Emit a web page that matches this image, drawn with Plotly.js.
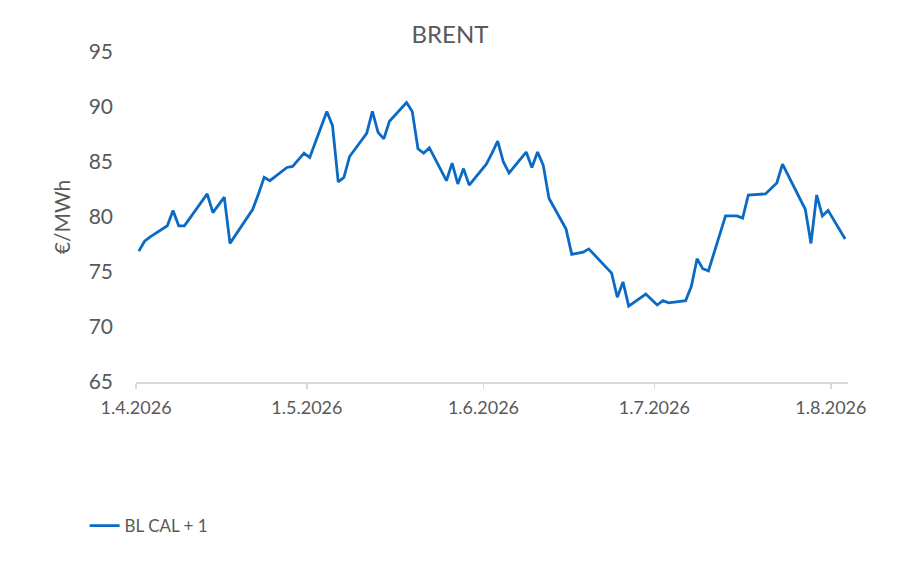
<!DOCTYPE html>
<html>
<head>
<meta charset="utf-8">
<script src="https://cdn.plot.ly/plotly-3.0.1.min.js"></script>
<style>
  html, body { margin: 0; padding: 0; background: #ffffff; }
  #chart { width: 900px; height: 573px; }
</style>
</head>
<body>
<div id="chart"></div>
<script>
// trading days and BL CAL + 1 prices (EUR/MWh)
var dates = [
  '2026-04-01', '2026-04-02', '2026-04-03', '2026-04-06', '2026-04-07', '2026-04-08', '2026-04-09', '2026-04-10',
  '2026-04-13', '2026-04-14', '2026-04-15', '2026-04-16', '2026-04-17',
  '2026-04-20', '2026-04-21', '2026-04-22', '2026-04-23', '2026-04-24',
  '2026-04-27', '2026-04-28', '2026-04-29', '2026-04-30', '2026-05-01',
  '2026-05-04', '2026-05-05', '2026-05-06', '2026-05-07', '2026-05-08',
  '2026-05-11', '2026-05-12', '2026-05-13', '2026-05-14', '2026-05-15',
  '2026-05-18', '2026-05-19', '2026-05-20', '2026-05-21', '2026-05-22',
  '2026-05-25', '2026-05-26', '2026-05-27', '2026-05-28', '2026-05-29',
  '2026-06-01', '2026-06-02', '2026-06-03', '2026-06-04', '2026-06-05',
  '2026-06-08', '2026-06-09', '2026-06-10', '2026-06-11', '2026-06-12',
  '2026-06-15', '2026-06-16', '2026-06-17', '2026-06-18', '2026-06-19',
  '2026-06-22', '2026-06-23', '2026-06-24', '2026-06-25', '2026-06-26',
  '2026-06-29', '2026-06-30', '2026-07-01', '2026-07-02', '2026-07-03',
  '2026-07-06', '2026-07-07', '2026-07-08', '2026-07-09', '2026-07-10',
  '2026-07-13', '2026-07-14', '2026-07-15', '2026-07-16', '2026-07-17',
  '2026-07-20', '2026-07-21', '2026-07-22', '2026-07-23', '2026-07-24',
  '2026-07-27', '2026-07-28', '2026-07-29', '2026-07-30', '2026-07-31',
  '2026-08-03'
];
var blCal1 = [
  76.9, 77.8, 78.2, 79.2, 80.6, 79.2, 79.2, 79.9,
  82.1, 80.4, 81.1, 81.8, 77.6,
  79.9, 80.7, 82.1, 83.6, 83.3,
  84.5, 84.6, 85.2, 85.8, 85.4,
  89.6, 88.3, 83.2, 83.6, 85.5,
  87.6, 89.6, 87.7, 87.1, 88.7,
  90.4, 89.6, 86.2, 85.8, 86.3,
  83.3, 84.9, 83.0, 84.4, 82.9,
  84.8, 85.8, 86.9, 85.0, 84.0,
  85.9, 84.5, 85.9, 84.7, 81.7,
  78.9, 76.6, 76.7, 76.8, 77.1,
  75.4, 74.9, 72.7, 74.1, 71.9,
  73.0, 72.5, 72.0, 72.4, 72.2,
  72.4, 73.7, 76.2, 75.3, 75.1,
  80.1, 80.1, 80.1, 79.9, 82.0,
  82.1, 82.6, 83.1, 84.8, 83.8,
  80.7, 77.6, 82.0, 80.1, 80.6,
  78.0
];

var textColor = '#595959';
var fontFamily = 'Lato, "Open Sans", sans-serif';

var trace = {
  // Excel date axes put each point in the middle of its day
  x: dates.map(d => d + ' 12:00'),
  y: blCal1,
  mode: 'lines',
  name: 'BL CAL + 1',
  line: {
    color: '#0a6ac4',
    width: 2.8
  },
  hoverinfo: 'x+y'
};

var layout = {
  width: 900,
  height: 573,
  margin: { l: 136, r: 52, t: 52, b: 191 },
  paper_bgcolor: '#ffffff',
  plot_bgcolor: '#ffffff',
  font: { family: fontFamily, color: textColor },
  title: {
    text: 'BRENT',
    font: { family: fontFamily, size: 24, color: textColor },
    x: 0.5,
    xanchor: 'center',
    y: 0.94,
    yanchor: 'middle'
  },
  showlegend: true,
  legend: {
    orientation: 'h',
    xref: 'container',
    yref: 'container',
    x: 0.094,
    y: 0.082,
    xanchor: 'left',
    yanchor: 'middle',
    font: { family: fontFamily, size: 17, color: textColor }
  },
  xaxis: {
    type: 'date',
    range: ['2026-04-01', '2026-08-04'],
    tick0: '2026-04-01',
    dtick: 'M1',
    tickformat: '%-d.%-m.%Y',
    ticks: 'outside',
    ticklen: 5,
    tickcolor: '#d9d9d9',
    tickwidth: 1.3,
    showline: true,
    linecolor: '#d9d9d9',
    linewidth: 1.5,
    showgrid: false,
    zeroline: false,
    tickfont: { family: fontFamily, size: 18, color: textColor },
    ticklabelstandoff: 4
  },
  yaxis: {
    range: [65, 95],
    dtick: 5,
    showgrid: false,
    zeroline: false,
    showline: false,
    ticks: '',
    tickfont: { family: fontFamily, size: 21, color: textColor },
    ticklabelstandoff: 22,
    title: {
      text: '€/MWh',
      font: { family: fontFamily, size: 21, color: textColor },
      standoff: 12
    }
  }
};

Plotly.newPlot('chart', [trace], layout, { displayModeBar: false, staticPlot: true });
</script>
</body>
</html>
